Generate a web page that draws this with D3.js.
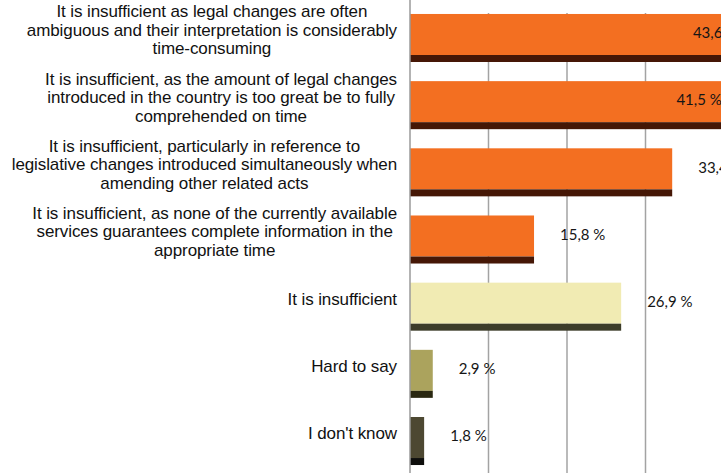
<!DOCTYPE html>
<html>
<head>
<meta charset="utf-8">
<script src="https://cdn.jsdelivr.net/npm/d3@7"></script>
<style>
  body { margin: 0; background: #fff; }
  svg { display: block; }
</style>
</head>
<body>
<div id="main"></div>
<script>
// answers, one label line per \n
var categories = [
    "It is insufficient as legal changes are often\nambiguous and their interpretation is considerably\ntime-consuming",
    "It is insufficient, as the amount of legal changes\nintroduced in the country is too great be to fully\ncomprehended on time",
    "It is insufficient, particularly in reference to\nlegislative changes introduced simultaneously when\namending other related acts",
    "It is insufficient, as none of the currently available\nservices guarantees complete information in the\nappropriate time",
    "It is insufficient",
    "Hard to say",
    "I don't know"
];
var values = [43.6, 41.5, 33.4, 15.8, 26.9, 2.9, 1.8];
var ticks = [10, 20, 30, 40];

var fills = ["#f36f21", "#f36f21", "#f36f21", "#f36f21", "#f1ebb3", "#aba35d", "#4d4832"];
var shades = ["#451706", "#451706", "#451706", "#451706", "#3d3c29", "#2a2812", "#0e0e0c"];

var ctx = {
    w: 721,
    h: 473,
    axisX: 410,
    plotTop: 13
};

var svg = d3.select("#main").append("svg")
    .attr("width", ctx.w)
    .attr("height", ctx.h);

var x = d3.scaleLinear().domain([0, 40]).range([ctx.axisX, 724]);
var y = d3.scaleBand()
    .domain(d3.range(categories.length))
    .range([4.4, 474.6])
    .paddingInner(0.285)
    .paddingOuter(0.1425);

// vertical gridlines
svg.append("g").selectAll("line")
    .data(ticks)
    .enter().append("line")
    .attr("x1", function(d) { return x(d); })
    .attr("x2", function(d) { return x(d); })
    .attr("y1", ctx.plotTop)
    .attr("y2", ctx.h)
    .attr("stroke", "#a3a3a3")
    .attr("stroke-width", 1.5);

var shadowH = 7;
var bars = svg.append("g").selectAll("g")
    .data(values)
    .enter().append("g");

bars.append("rect")
    .attr("x", x(0))
    .attr("y", function(d, i) { return y(i); })
    .attr("width", function(d) { return x(d) - x(0); })
    .attr("height", y.bandwidth() - shadowH)
    .attr("fill", function(d, i) { return fills[i]; });

bars.append("rect")
    .attr("x", x(0))
    .attr("y", function(d, i) { return y(i) + y.bandwidth() - shadowH; })
    .attr("width", function(d) { return x(d) - x(0); })
    .attr("height", shadowH)
    .attr("fill", function(d, i) { return shades[i]; });

// category axis line
svg.append("line")
    .attr("x1", ctx.axisX).attr("x2", ctx.axisX)
    .attr("y1", 0).attr("y2", ctx.h)
    .attr("stroke", "#9a9a9a")
    .attr("stroke-width", 1.5);

// value labels outside the bar end; moved inside when the bar runs past the picture
var fmt = function(v) { return d3.format(".1f")(v).replace(".", ",") + " %"; };
svg.append("g").selectAll("text")
    .data(values)
    .enter().append("text")
    .attr("font-family", "Lato, 'Open Sans', sans-serif")
    .attr("font-size", 15)
    .attr("fill", "#151515")
    .attr("dy", "0.35em")
    .text(fmt)
    .each(function(d, i) {
        var t = d3.select(this),
            wd = this.getComputedTextLength(),
            px = x(d) + 26;
        if (px > ctx.w) px = x(d) - 14 - wd;
        t.attr("x", px).attr("y", y(i) + y.bandwidth() / 2 - 5);
    });

// category labels: lines centred in a block that is right aligned to the axis
var lineH = 18.5;
var labels = svg.append("g").selectAll("text")
    .data(categories)
    .enter().append("text")
    .attr("font-family", "'Liberation Sans', Arial, sans-serif")
    .attr("font-size", 17)
    .attr("letter-spacing", -0.1)
    .attr("fill", "#111")
    .attr("text-anchor", "middle");

labels.each(function(d, i) {
    var t = d3.select(this),
        lines = d.split("\n"),
        cy = y(i) + y.bandwidth() / 2 - 8;
    lines.forEach(function(l, j) {
        t.append("tspan")
            .attr("y", cy + (j - (lines.length - 1) / 2) * lineH)
            .attr("dy", "0.35em")
            .text(l);
    });
    var maxW = d3.max(t.selectAll("tspan").nodes(), function(n) { return n.getComputedTextLength(); });
    t.selectAll("tspan").attr("x", 397 - maxW / 2);
});
</script>
</body>
</html>
